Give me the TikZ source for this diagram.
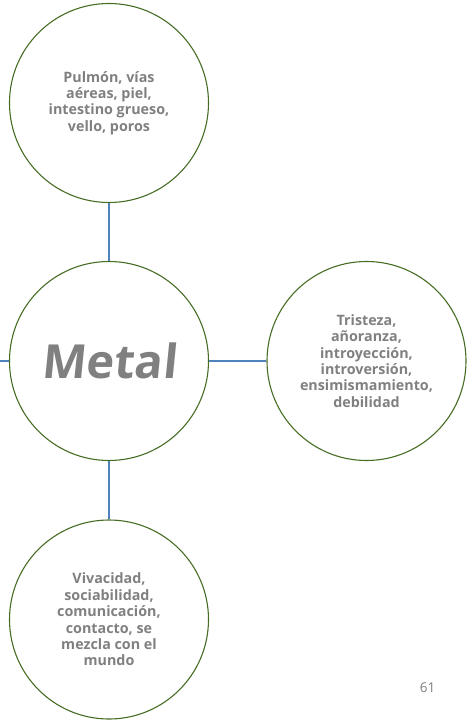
\documentclass[tikz,border=0pt]{standalone}
\usepackage{fontspec}
\setmainfont{Open Sans}
\newfontfamily\titlefont[FakeSlant=0.1]{Open Sans}
\definecolor{ringgreen}{HTML}{476D24}
\definecolor{linkblue}{HTML}{4F81BD}
\definecolor{textgray}{HTML}{808080}
\begin{document}
\begin{tikzpicture}[x=1pt,y=-1pt,
  ring/.style={circle,draw=ringgreen,line width=1.1pt,minimum size=199pt,inner sep=0pt,
    align=center,text=textgray,font=\fontsize{14.3}{16.4}\selectfont\bfseries},
  link/.style={draw=linkblue,line width=1.1pt}]
\useasboundingbox (0,0) rectangle (469,722);
% central element and its four branches
\node[ring,font=\titlefont\fontsize{47}{50}\selectfont\bfseries] (metal) at (109,361) {Metal};
\node[ring] (organs) at (109,103) {Pulmón, vías\\aéreas, piel,\\intestino grueso,\\vello, poros};
\node[ring] (emotion) at (366.5,361) {Tristeza,\\añoranza,\\introyección,\\introversión,\\ensimismamiento,\\debilidad};
\node[ring] (social) at (109,619.5) {Vivacidad,\\sociabilidad,\\comunicación,\\contacto, se\\mezcla con el\\mundo};
\coordinate (leftend) at (0,361);
\draw[link] (organs.south) -- (metal.north);
\draw[link] (metal.south) -- (social.north);
\draw[link] (metal.east) -- (emotion.west);
\draw[link] (metal.west) -- (leftend);
% page number
\node[text=textgray,font=\fontsize{13.5}{16}\selectfont,inner sep=0pt] (pagenum) at (427.5,688) {61};
\end{tikzpicture}
\end{document}
